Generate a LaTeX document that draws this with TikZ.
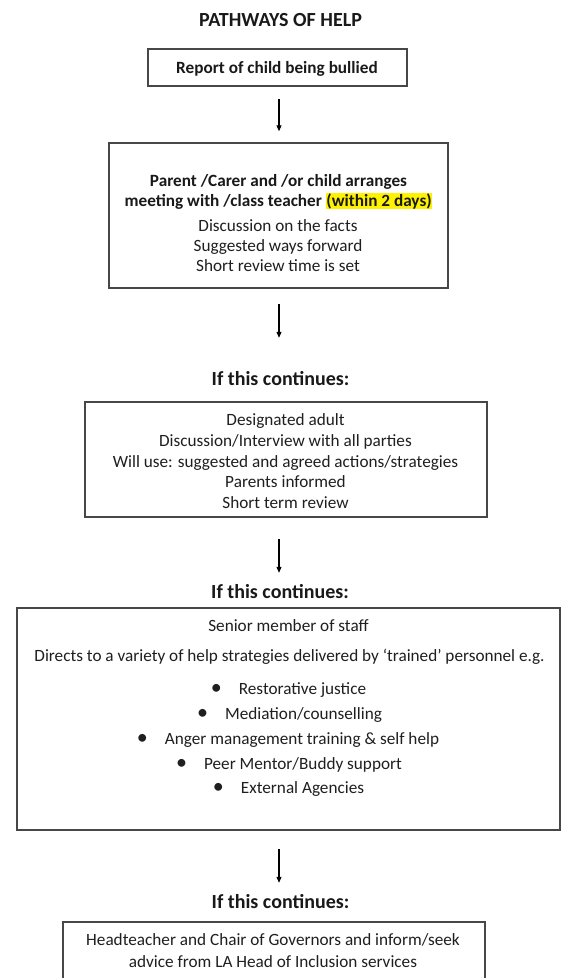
\documentclass[tikz,border=0pt]{standalone}
\usepackage{fontspec}
\setmainfont{Carlito}
\usetikzlibrary{arrows.meta}
\newcommand\mybul{\llap{\makebox[0pt]{\fontsize{22}{22}\selectfont •}\hspace{22.5pt}}}
\begin{document}
\begin{tikzpicture}[x=1pt,y=-1pt,
  box/.style={draw=black!72, line width=1.5pt, inner sep=0pt},
  txt/.style={anchor=base, inner sep=0pt, font=\fontsize{17.2}{20}\selectfont, text=black!88},
  btxt/.style={anchor=base, inner sep=0pt, font=\fontsize{17.2}{20}\selectfont\bfseries, text=black!90},
  head/.style={anchor=base, inner sep=0pt, text height=14pt, text depth=4pt, font=\fontsize{20}{24}\selectfont\bfseries, text=black!90},
  arr/.style={-{Triangle[length=6pt,width=5pt]}, line width=1.1pt, black}]
\useasboundingbox (0,0) rectangle (566,978);
\fill[white] (0,0) rectangle (566,978);
\coordinate (ax) at (279,0);

% title
\node[head] (title) at (280.5,26.5) {PATHWAYS OF HELP};

% box 1
\node[box, minimum width=259pt, minimum height=37pt] (b1) at (277.5,67.5) {};
\node[btxt] (t1) at (277,73) {Report of child being bullied};

% box 2
\node[box, minimum width=339pt, minimum height=145pt] (b2) at (278.5,215.5) {};
\node[btxt] (t2a) at (278.5,186) {Parent /Carer and /or child arranges};
\node[btxt] (t2b) at (278.5,206) {meeting with /class teacher {\setlength{\fboxsep}{0.6pt}\colorbox{yellow}{(within 2 days)}}};
\node[txt] (t2c) at (278,231) {Discussion on the facts};
\node[txt] (t2d) at (278,251) {Suggested ways forward};
\node[txt] (t2e) at (278,271) {Short review time is set};

% heading 1
\node[head] (c1) at (280.5,385) {If this continues:};

% box 3
\node[box, minimum width=402pt, minimum height=115pt] (b3) at (286,459.5) {};
\node[txt] (t3a) at (285.5,425) {Designated adult};
\node[txt] (t3b) at (285.5,446) {Discussion/Interview with all parties};
\node[txt] (t3c) at (285.5,467) {Will use: suggested and agreed actions/strategies};
\node[txt] (t3d) at (285.5,487) {Parents informed};
\node[txt] (t3e) at (285.5,508) {Short term review};

% heading 2
\node[head] (c2) at (280,598) {If this continues:};

% box 4
\node[box, minimum width=543pt, minimum height=222pt] (b4) at (288.5,719) {};
\node[txt] (t4a) at (288.5,631) {Senior member of staff};
\node[txt] (t4b) at (289.5,661) {Directs to a variety of help strategies delivered by ‘trained’ personnel e.g.};
\node[txt] (t4c) at (302.5,694) {\mybul Restorative justice};
\node[txt] (t4d) at (303.5,719) {\mybul Mediation/counselling};
\node[txt] (t4e) at (302,744) {\mybul Anger management training \& self help};
\node[txt] (t4f) at (303,769) {\mybul Peer Mentor/Buddy support};
\node[txt] (t4g) at (302.5,793) {\mybul External Agencies};

% heading 3
\node[head] (c3) at (280.5,908) {If this continues:};

% box 5
\node[box, minimum width=422pt, minimum height=100pt] (b5) at (274,972) {};
\node[txt] (t5a) at (273,945) {Headteacher and Chair of Governors and inform/seek};
\node[txt] (t5b) at (273,967) {advice from LA Head of Inclusion services};

% arrows
\draw[arr, shorten <=12pt, shorten >=11pt] (b1.south -| ax) -- (b2.north -| ax);
\draw[arr, shorten <=15pt, shorten >=33pt] (b2.south -| ax) -- (c1.north -| ax);
\draw[arr, shorten <=21pt, shorten >=11pt] (b3.south -| ax) -- (c2.north -| ax);
\draw[arr, shorten <=18pt, shorten >=11pt] (b4.south -| ax) -- (c3.north -| ax);
\end{tikzpicture}
\end{document}
